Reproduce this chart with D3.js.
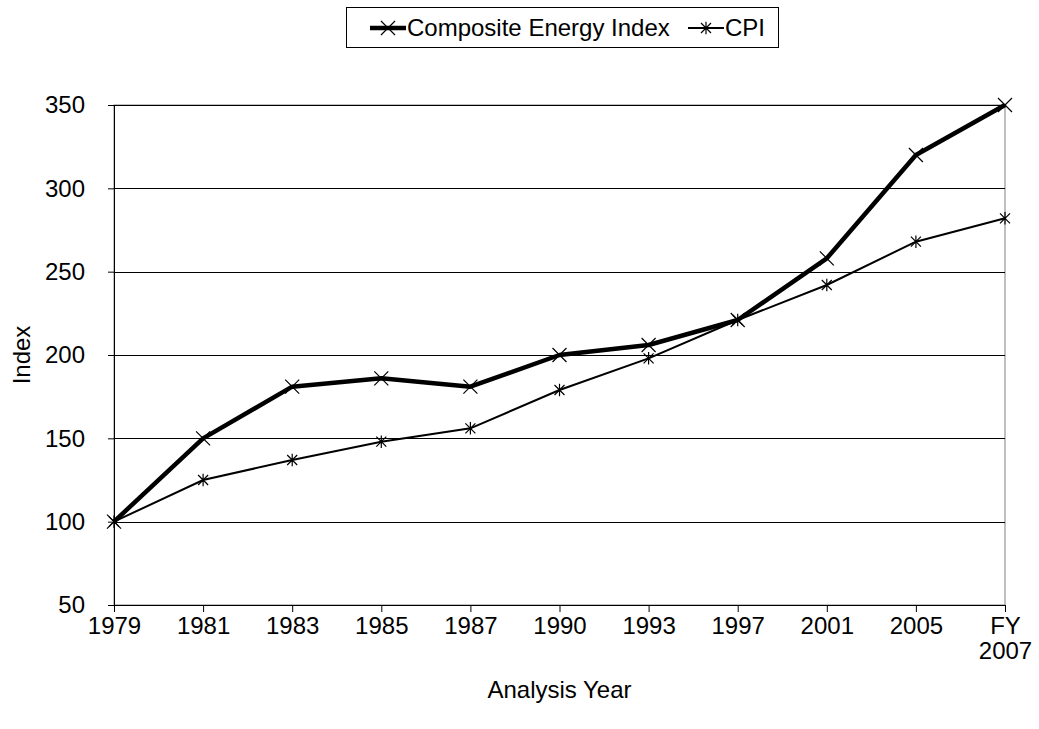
<!DOCTYPE html>
<html lang="en">
  <head>
    <meta charset="UTF-8" />
    <title>Composite Energy Index vs CPI</title>
    <script src="https://d3js.org/d3.v7.min.js"></script>
    <style>
      body {
        margin: 0;
        background: #fff;
      }
      text {
        font-family: "Liberation Sans", Arial, sans-serif;
        fill: #000;
      }
      .tick text {
        font-size: 24px;
      }
    </style>
  </head>
  <body>
    <svg width="1039" height="729"></svg>
    <script>
      // Data
      var years = ["1979", "1981", "1983", "1985", "1987", "1990", "1993", "1997", "2001", "2005", "FY 2007"];
      var energyIndex = [100, 150, 181, 186, 181, 200, 206, 221, 258, 320, 350];
      var cpi = [100, 125, 137, 148, 156, 179, 198, 221, 242, 268, 282];
      var yTicks = [50, 100, 150, 200, 250, 300, 350];

      var svg = d3.select("svg");
      var margin = { top: 105, right: 34, bottom: 124, left: 114 };
      var width = 1039 - margin.left - margin.right,
        height = 729 - margin.top - margin.bottom;

      var g = svg.append("g").attr("transform", "translate(" + margin.left + "," + margin.top + ")");

      var x = d3.scalePoint().domain(years).range([0, width]);
      var y = d3.scaleLinear().domain([50, 350]).range([height, 0]);

      // Plot border (gray)
      g.append("rect")
        .attr("width", width)
        .attr("height", height)
        .attr("fill", "none")
        .attr("stroke", "#808080")
        .attr("stroke-width", 1);

      // Horizontal gridlines
      g.append("g")
        .selectAll("line")
        .data(yTicks.slice(1))
        .enter()
        .append("line")
        .attr("x1", 0)
        .attr("x2", width)
        .attr("y1", function (d) { return Math.round(y(d)) + 0.5; })
        .attr("y2", function (d) { return Math.round(y(d)) + 0.5; })
        .attr("stroke", "#000")
        .attr("stroke-width", 1);

      // Y axis
      var yAxis = g.append("g")
        .call(d3.axisLeft(y).tickValues(yTicks).tickSize(6).tickPadding(23));
      yAxis.select(".domain").attr("stroke", "#000");

      // X axis
      var xAxis = g.append("g")
        .attr("transform", "translate(0," + height + ")")
        .call(d3.axisBottom(x).tickSize(7).tickPadding(5));
      xAxis.select(".domain").attr("stroke", "#000");
      xAxis.selectAll(".tick text").each(function (d) {
        var parts = d.split(" ");
        if (parts.length > 1) {
          var t = d3.select(this).text(null);
          parts.forEach(function (p, i) {
            t.append("tspan").attr("x", 0).attr("dy", i === 0 ? "0.71em" : "1.05em").text(p);
          });
        }
      });

      var line = d3.line()
        .x(function (d, i) { return x(years[i]); })
        .y(function (d) { return y(d); });

      function crossMarker(s) {
        return "M" + -s + "," + -s + "L" + s + "," + s + "M" + -s + "," + s + "L" + s + "," + -s;
      }
      function starMarker(s) {
        return "M" + -s + "," + -s + "L" + s + "," + s + "M" + -s + "," + s + "L" + s + "," + -s +
          "M0," + -s * 1.25 + "L0," + s * 1.25;
      }

      // CPI series (thin, star markers)
      g.append("path")
        .datum(cpi)
        .attr("fill", "none")
        .attr("stroke", "#000")
        .attr("stroke-width", 2)
        .attr("d", line);
      g.append("g")
        .selectAll("path")
        .data(cpi)
        .enter()
        .append("path")
        .attr("transform", function (d, i) { return "translate(" + x(years[i]) + "," + y(d) + ")"; })
        .attr("d", starMarker(5))
        .attr("stroke", "#000")
        .attr("stroke-width", 1.2);

      // Composite Energy Index (thick, x markers)
      g.append("path")
        .datum(energyIndex)
        .attr("fill", "none")
        .attr("stroke", "#000")
        .attr("stroke-width", 4.5)
        .attr("stroke-linejoin", "round")
        .attr("d", line);
      g.append("g")
        .selectAll("path")
        .data(energyIndex)
        .enter()
        .append("path")
        .attr("transform", function (d, i) { return "translate(" + x(years[i]) + "," + y(d) + ")"; })
        .attr("d", crossMarker(7))
        .attr("stroke", "#000")
        .attr("stroke-width", 1.2);

      // Axis titles
      svg.append("text")
        .attr("x", margin.left + width / 2)
        .attr("y", 698)
        .attr("text-anchor", "middle")
        .style("font-size", "24px")
        .text("Analysis Year");
      svg.append("text")
        .attr("transform", "translate(30," + (margin.top + height / 2) + ") rotate(-90)")
        .attr("text-anchor", "middle")
        .style("font-size", "24px")
        .text("Index");

      // Legend
      var legend = svg.append("g").attr("transform", "translate(346,7)");
      legend.append("rect")
        .attr("x", 0.5)
        .attr("y", 0.5)
        .attr("width", 432)
        .attr("height", 40)
        .attr("fill", "#fff")
        .attr("stroke", "#000");
      var items = [
        { name: "Composite Energy Index", w: 4.5, marker: crossMarker(7), x: 24 },
        { name: "CPI", w: 2, marker: starMarker(5), x: 342 }
      ];
      items.forEach(function (it) {
        var lg = legend.append("g").attr("transform", "translate(" + it.x + ",21)");
        lg.append("line").attr("x1", 0).attr("x2", 36).attr("stroke", "#000").attr("stroke-width", it.w);
        lg.append("path").attr("transform", "translate(18,0)").attr("d", it.marker).attr("stroke", "#000").attr("stroke-width", 1.2);
        lg.append("text").attr("x", 37).attr("dy", "0.35em").style("font-size", "24px").text(it.name);
      });
    </script>
  </body>
</html>
